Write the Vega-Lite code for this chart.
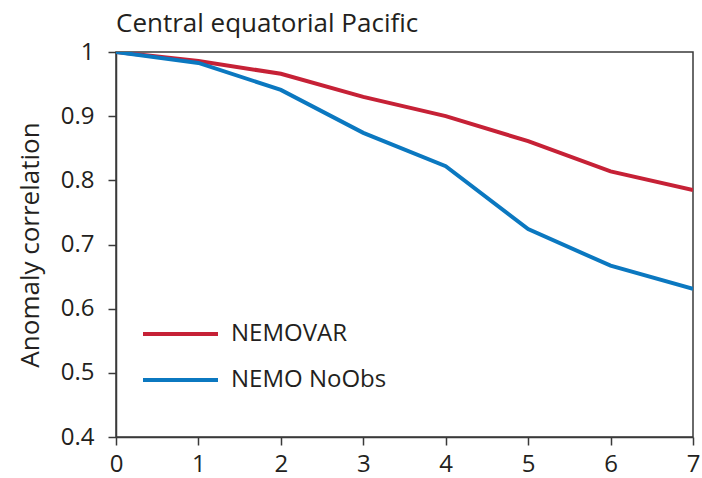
{
  "$schema": "https://vega.github.io/schema/vega-lite/v6.json",
  "width": 577,
  "height": 385,
  "autosize": {"type": "none"},
  "padding": {"left": 116, "top": 52, "right": 9, "bottom": 41},
  "background": "white",
  "title": {
    "text": "Central equatorial Pacific",
    "anchor": "start",
    "frame": "group",
    "fontSize": 26,
    "fontWeight": "normal",
    "font": "Open Sans",
    "color": "#231f20",
    "offset": 3
  },
  "config": {
    "view": {"stroke": "#3a3a3a", "strokeWidth": 1.5},
    "axis": {
      "domainColor": "#3a3a3a",
      "domainWidth": 1.5,
      "tickColor": "#3a3a3a",
      "tickWidth": 1.5,
      "tickSize": 8,
      "labelFlush": false,
      "labelFont": "Open Sans",
      "labelFontSize": 24,
      "labelColor": "#231f20",
      "titleFont": "Open Sans",
      "titleFontSize": 26,
      "titleFontWeight": "normal",
      "titleColor": "#231f20",
      "grid": false
    },
    "legend": {
      "labelFont": "Open Sans",
      "labelFontSize": 24,
      "labelColor": "#231f20"
    }
  },
  "data": {
    "values": [
      {"lead": 0, "corr": 1.0, "run": "NEMOVAR"},
      {"lead": 1, "corr": 0.986, "run": "NEMOVAR"},
      {"lead": 2, "corr": 0.966, "run": "NEMOVAR"},
      {"lead": 3, "corr": 0.93, "run": "NEMOVAR"},
      {"lead": 4, "corr": 0.9, "run": "NEMOVAR"},
      {"lead": 5, "corr": 0.861, "run": "NEMOVAR"},
      {"lead": 6, "corr": 0.814, "run": "NEMOVAR"},
      {"lead": 7, "corr": 0.785, "run": "NEMOVAR"},
      {"lead": 0, "corr": 1.0, "run": "NEMO NoObs"},
      {"lead": 1, "corr": 0.983, "run": "NEMO NoObs"},
      {"lead": 2, "corr": 0.941, "run": "NEMO NoObs"},
      {"lead": 3, "corr": 0.874, "run": "NEMO NoObs"},
      {"lead": 4, "corr": 0.822, "run": "NEMO NoObs"},
      {"lead": 5, "corr": 0.724, "run": "NEMO NoObs"},
      {"lead": 6, "corr": 0.667, "run": "NEMO NoObs"},
      {"lead": 7, "corr": 0.631, "run": "NEMO NoObs"}
    ]
  },
  "mark": {"type": "line", "strokeWidth": 4, "clip": true},
  "encoding": {
    "x": {
      "field": "lead",
      "type": "quantitative",
      "scale": {"domain": [0, 7], "nice": false, "zero": false},
      "axis": {"values": [0, 1, 2, 3, 4, 5, 6, 7], "title": null, "labelPadding": 7}
    },
    "y": {
      "field": "corr",
      "type": "quantitative",
      "scale": {"domain": [0.4, 1], "nice": false, "zero": false},
      "axis": {
        "values": [0.4, 0.5, 0.6, 0.7, 0.8, 0.9, 1],
        "format": ".1~f",
        "title": "Anomaly correlation",
        "labelPadding": 14,
        "titleX": -86,
        "titleBaseline": "middle"
      }
    },
    "color": {
      "field": "run",
      "type": "nominal",
      "scale": {"domain": ["NEMOVAR", "NEMO NoObs"], "range": ["#c62136", "#0b78c0"]},
      "legend": {
        "title": null,
        "orient": "none",
        "legendX": 25,
        "legendY": 264,
        "symbolType": "stroke",
        "symbolSize": 5625,
        "symbolStrokeWidth": 4,
        "labelOffset": 11,
        "clipHeight": 36,
        "rowPadding": 10
      }
    }
  }
}
